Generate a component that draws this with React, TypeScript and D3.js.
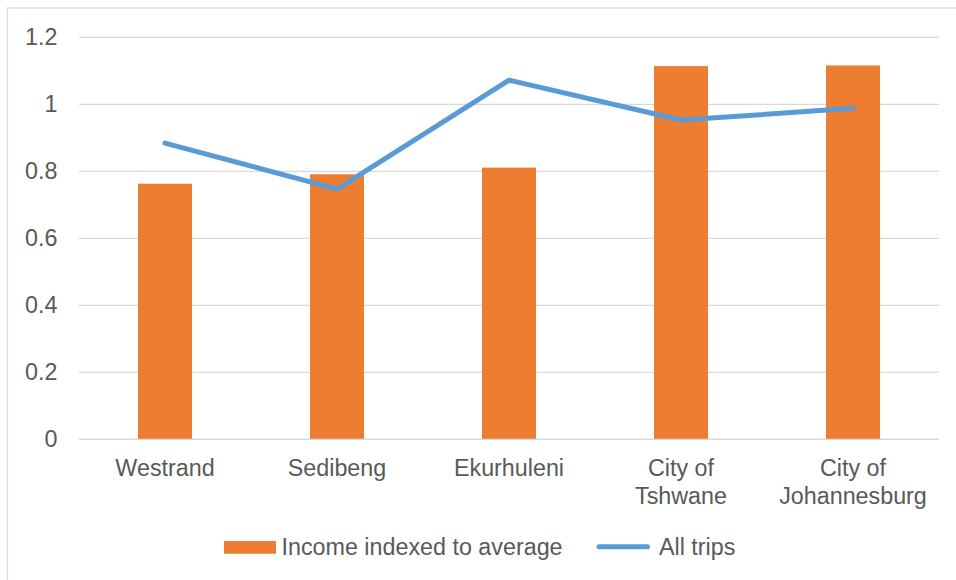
import React from "react";
import * as d3 from "d3";

const categories: string[][] = [
  ["Westrand"],
  ["Sedibeng"],
  ["Ekurhuleni"],
  ["City of", "Tshwane"],
  ["City of", "Johannesburg"],
];
const incomeIndexed: number[] = [0.763, 0.791, 0.811, 1.114, 1.116];
const allTrips: number[] = [0.884, 0.747, 1.072, 0.953, 0.988];
const yTicks: number[] = [0, 0.2, 0.4, 0.6, 0.8, 1, 1.2];
const seriesNames = ["Income indexed to average", "All trips"];

const W = 956;
const H = 580;
const left = 79;
const right = 939;
const top = 37.3;
const bottom = 439.3;
const font = "'Liberation Sans', Arial, sans-serif";
const fs = 23.3;
const textColor = "#595959";
const orange = "#ED7D31";
const blue = "#5B9BD5";

export default function App() {
  const idx = categories.map((_, i) => String(i));
  const x = d3.scaleBand<string>().domain(idx).range([left, right]).paddingInner(0.686).paddingOuter(0.343);
  const y = d3.scaleLinear().domain([0, 1.2]).range([bottom, top]);
  const cx = (i: number) => (x(String(i)) as number) + x.bandwidth() / 2;
  const line = d3
    .line<number>()
    .x((_, i) => cx(i))
    .y((d) => y(d));

  return (
    <svg
      width={W}
      height={H}
      style={{ position: "absolute", left: 0, top: 0, background: "#fff" }}
      fontFamily={font}
    >
      <rect x={7.5} y={8} width={W + 10} height={H + 10} fill="#fff" stroke="#D9D9D9" strokeWidth={1.2} />
      {yTicks.map((t) => (
        <g key={t}>
          <line x1={left} x2={right} y1={y(t)} y2={y(t)} stroke="#D9D9D9" strokeWidth={1.3} />
          <text x={57.5} y={y(t) + 8} textAnchor="end" fontSize={fs} fill={textColor}>
            {String(t)}
          </text>
        </g>
      ))}
      {incomeIndexed.map((v, i) => (
        <rect
          key={i}
          x={x(String(i))}
          y={y(v)}
          width={x.bandwidth()}
          height={y(0) - y(v)}
          fill={orange}
        />
      ))}
      <line x1={left} x2={right} y1={y(0)} y2={y(0)} stroke="#D9D9D9" strokeWidth={1.3} />
      <path d={line(allTrips) || ""} fill="none" stroke={blue} strokeWidth={5} strokeLinecap="round" strokeLinejoin="round" />
      {categories.map((lines, i) => (
        <text key={i} x={cx(i)} y={476.3} textAnchor="middle" fontSize={fs} fill={textColor}>
          {lines.map((l, j) => (
            <tspan key={j} x={cx(i)} dy={j === 0 ? 0 : 28}>
              {l}
            </tspan>
          ))}
        </text>
      ))}
      <g>
        <rect x={224} y={541} width={52} height={12.7} fill={orange} />
        <text x={281.5} y={554.6} fontSize={fs} fill={textColor}>
          {seriesNames[0]}
        </text>
        <line x1={599} x2={647.5} y1={546.8} y2={546.8} stroke={blue} strokeWidth={5} strokeLinecap="round" />
        <text x={659} y={554.6} fontSize={fs} fill={textColor}>
          {seriesNames[1]}
        </text>
      </g>
    </svg>
  );
}
